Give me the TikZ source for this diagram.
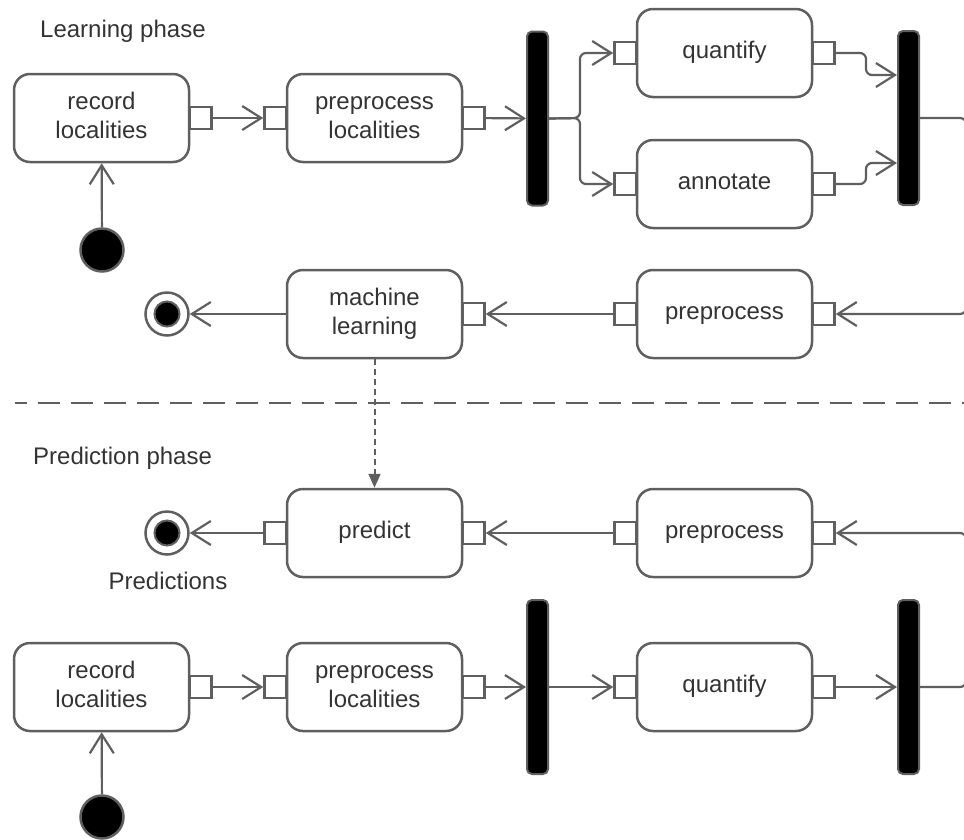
\documentclass[tikz,border=0pt]{standalone}
\usepackage{fontspec}
\setmainfont{Liberation Sans}
\usetikzlibrary{arrows.meta}
\definecolor{linegray}{RGB}{95,95,95}
\definecolor{textgray}{RGB}{51,51,51}

\begin{document}
\begin{tikzpicture}[x=1pt,y=-1pt,
  every node/.style={text=textgray, font=\fontsize{24}{29}\selectfont},
  action/.style={draw=linegray, line width=2.5pt, rounded corners=16pt,
    minimum width=175pt, minimum height=88pt, align=center, inner sep=0pt},
  pinbox/.style={draw=linegray, line width=2.5pt, fill=white,
    minimum size=22pt, inner sep=0pt},
  syncbar/.style={draw=linegray, line width=2pt, fill=black, rounded corners=5pt,
    minimum width=21pt, minimum height=174pt, inner sep=0pt},
  startdot/.style={circle, draw=linegray, line width=2.5pt, fill=black,
    minimum size=43pt, inner sep=0pt},
  endring/.style={circle, draw=linegray, line width=2.5pt, fill=white,
    minimum size=43pt, inner sep=0pt},
  enddot/.style={circle, draw=linegray, line width=2pt, fill=black,
    minimum size=25pt, inner sep=0pt},
  caption/.style={inner sep=0pt},
  link/.style={draw=linegray, line width=2.2pt},
  flow/.style={link, -{Straight Barb[length=19pt,width=24pt]}},
  ]
\useasboundingbox (0,0) rectangle (964,839);

% ---------------- learning phase ----------------
\node[caption, anchor=base west] (learnlbl) at (40,37) {Learning phase};

\node[action] (r1) at (101.5,118) {\strut record\\\strut localities};
\node[pinbox] (r1o) at (200.5,118) {};
\node[action] (p1) at (374.5,118) {\strut preprocess\\\strut localities};
\node[pinbox] (p1i) at (275.5,118) {};
\node[pinbox] (p1o) at (473.5,118) {};
\node[syncbar] (bar1) at (537.5,118.5) {};

\node[action] (q1) at (724.5,53) {\strut quantify};
\node[pinbox] (q1i) at (625.5,53) {};
\node[pinbox] (q1o) at (823.5,53) {};
\node[action] (a1) at (724.5,184) {\strut annotate};
\node[pinbox] (a1i) at (625.5,184) {};
\node[pinbox] (a1o) at (823.5,184) {};
\node[syncbar] (bar2) at (908.5,118) {};

\node[startdot] (s1) at (102,250) {};

\node[action] (pp1) at (724.5,314) {\strut preprocess};
\node[pinbox] (pp1i) at (625.5,314) {};
\node[pinbox] (pp1o) at (823.5,314) {};
\node[action] (ml) at (374.5,314) {\strut machine\\\strut learning};
\node[pinbox] (mlo) at (473.5,314) {};
\node[endring] (e1) at (167,314) {};
\node[enddot] at (e1) {};

% fork, join and the return path along the right edge
\coordinate (f1) at (580,118);
\coordinate (j1) at (866,75);
\coordinate (j2) at (866,163);
\coordinate (edge1) at (966,118);

\draw[flow] (s1) -- (r1);
\draw[flow] (r1o) -- (p1i);
\draw[flow] (p1o) -- (bar1);
\draw[flow, rounded corners=6pt] (bar1.east) -- (f1) |- (q1i.west);
\draw[flow, rounded corners=6pt] (bar1.east) -- (f1) |- (a1i.west);
\draw[flow, rounded corners=6pt] (q1o.east) -| (j1) -- (j1 -| bar2.west);
\draw[flow, rounded corners=6pt] (a1o.east) -| (j2) -- (j2 -| bar2.west);
\draw[flow, rounded corners=6pt] (bar2.east) -- (edge1) |- (pp1o.east);
\draw[flow] (pp1i) -- (mlo);
\draw[flow] (ml.west) -- (e1);

% ---------------- phase separator ----------------
\coordinate (sepL) at (15,403);
\coordinate (sepR) at (964,403);
\draw[linegray, line width=2.5pt, dash pattern=on 22pt off 11pt, dash phase=10pt]
  (sepL) -- (sepR);

% ---------------- prediction phase ----------------
\node[caption, anchor=base west] (predlbl) at (33,464) {Prediction phase};

\node[action] (pr) at (374.5,533) {\strut predict};
\node[pinbox] (pri) at (275.5,533) {};
\node[pinbox] (pro) at (473.5,533) {};
\node[action] (pp2) at (724.5,533) {\strut preprocess};
\node[pinbox] (pp2i) at (625.5,533) {};
\node[pinbox] (pp2o) at (823.5,533) {};
\node[endring] (e2) at (167,533) {};
\node[enddot] at (e2) {};
\node[caption, anchor=base] (predout) at (168,589) {Predictions};

\node[action] (r2) at (101.5,687) {\strut record\\\strut localities};
\node[pinbox] (r2o) at (200.5,687) {};
\node[action] (p2) at (374.5,687) {\strut preprocess\\\strut localities};
\node[pinbox] (p2i) at (275.5,687) {};
\node[pinbox] (p2o) at (473.5,687) {};
\node[syncbar] (bar3) at (537.5,687) {};
\node[action] (q2) at (724.5,687) {\strut quantify};
\node[pinbox] (q2i) at (625.5,687) {};
\node[pinbox] (q2o) at (823.5,687) {};
\node[syncbar] (bar4) at (908.5,687) {};
\node[startdot] (s2) at (102,817) {};

\coordinate (edge2) at (966,687);

\draw[linegray, line width=2pt, dash pattern=on 6pt off 4pt,
  -{Triangle[length=14pt,width=12pt]}] (ml.south) -- (pr.north);
\draw[flow] (s2) -- (r2);
\draw[flow] (r2o) -- (p2i);
\draw[flow] (p2o) -- (bar3);
\draw[flow] (bar3) -- (q2i);
\draw[flow] (q2o) -- (bar4);
\draw[flow, rounded corners=6pt] (bar4.east) -- (edge2) |- (pp2o.east);
\draw[flow] (pp2i) -- (pro);
\draw[flow] (pri) -- (e2);
\end{tikzpicture}
\end{document}
